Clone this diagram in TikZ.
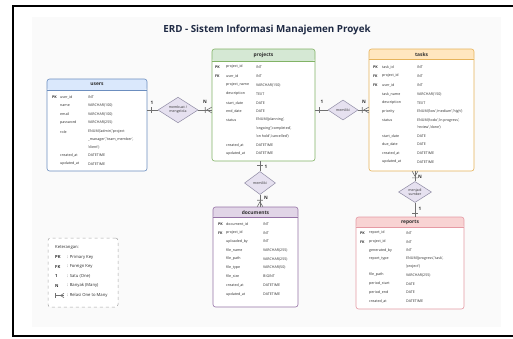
\documentclass[tikz,border=0pt]{standalone}
\usepackage{fontspec}
\setmainfont{Open Sans}
\usetikzlibrary{shapes.geometric}
\definecolor{titlec}{HTML}{1F2A44}
\definecolor{txt}{HTML}{2E2E2E}
\definecolor{usrh}{HTML}{DAE8FC}\definecolor{usrb}{HTML}{6C8EBF}
\definecolor{prjh}{HTML}{D5E8D4}\definecolor{prjb}{HTML}{82B366}
\definecolor{tskh}{HTML}{FFE6BF}\definecolor{tskb}{HTML}{E6B35A}
\definecolor{doch}{HTML}{E1D5E7}\definecolor{docb}{HTML}{9673A6}
\definecolor{reph}{HTML}{F8D3D3}\definecolor{repb}{HTML}{E59AA4}
\definecolor{relf}{HTML}{E6E1F0}\definecolor{relb}{HTML}{8E8AA3}
\definecolor{connc}{HTML}{707070}
\definecolor{panel}{HTML}{FAFAFA}
\newcommand\fld[7]{\node[pkt] at (#1,#4) {#5};\node[fnt] at (#2,#4) {#6};\node[fnt] at (#3,#4) {#7};}
\begin{document}
\begin{tikzpicture}[x=1pt,y=-1pt,
  entity/.style n args={3}{draw=#2, fill=white, rounded corners=2.5pt, line width=0.6pt, inner sep=0pt,
    path picture={\fill[#1] ([yshift=1pt]path picture bounding box.north west) rectangle ([yshift=-#3]path picture bounding box.north east);
      \draw[#2,line width=0.5pt] ([yshift=-#3]path picture bounding box.north west) -- ([yshift=-#3]path picture bounding box.north east);}},
  hdr/.style={font=\fontsize{4.9}{5}\selectfont\bfseries, text=txt, inner sep=0pt},
  pkt/.style={font=\fontsize{3.6}{4}\selectfont\bfseries, text=txt, anchor=west, inner sep=0pt},
  fnt/.style={font=\fontsize{3.6}{4}\selectfont, text=txt, anchor=west, inner sep=0pt},
  rel/.style={diamond, draw=relb, fill=relf, line width=0.5pt, inner sep=0pt, align=center, font=\fontsize{3.5}{4}\selectfont, text=txt},
  conn/.style={draw=connc, line width=0.6pt},
  card/.style={font=\fontsize{4.6}{5}\selectfont\bfseries, text=txt, inner sep=0pt},
  lgt/.style={font=\fontsize{4.2}{5}\selectfont, text=txt, anchor=west, inner sep=0pt},
  lgb/.style={font=\fontsize{4.2}{5}\selectfont\bfseries, text=txt, anchor=west, inner sep=0pt},
  crowfoot/.pic={\draw[conn] (-5,0) -- (0,-2.8) (-5,0) -- (0,2.8) (-6.5,-2.8) -- (-6.5,2.8);},
  onebar/.pic={\draw[conn] (-3.5,-2.8) -- (-3.5,2.8);}
]
\useasboundingbox (0,0) rectangle (513,338);
\fill[white] (0,0) rectangle (513,338);
\fill[panel] (32,17) rectangle (501,327);
\draw[black,line width=1.6pt] (513,5.8) -- (12.8,5.8) -- (12.8,336.2) -- (513,336.2);

\node[font=\fontsize{9.8}{11}\selectfont\bfseries, text=titlec] (title) at (267,30) {ERD - Sistem Informasi Manajemen Proyek};

% entities
\node[entity={usrh}{usrb}{11pt}, minimum width=100pt, minimum height=92pt] (users) at (97,125) {};
\node[entity={prjh}{prjb}{12pt}, minimum width=103pt, minimum height=112pt] (projects) at (263.5,105) {};
\node[entity={tskh}{tskb}{10.5pt}, minimum width=105pt, minimum height=122pt] (tasks) at (421.5,110) {};
\node[entity={doch}{docb}{10.5pt}, minimum width=85pt, minimum height=100pt] (documents) at (255.5,257) {};
\node[entity={reph}{repb}{10.5pt}, minimum width=108pt, minimum height=92pt] (reports) at (410,263) {};

\node[hdr] (usersh) at (97,84.5) {users};
\node[hdr] (projectsh) at (263.5,55) {projects};
\node[hdr] (tasksh) at (421.5,54.5) {tasks};
\node[hdr] (documentsh) at (255.5,212.2) {documents};
\node[hdr] (reportsh) at (410,222.2) {reports};

% users
\fld{52}{60}{88}{97}{PK}{user\_id}{INT}
\fld{52}{60}{88}{105.5}{}{name}{VARCHAR(100)}
\fld{52}{60}{88}{114}{}{email}{VARCHAR(100)}
\fld{52}{60}{88}{122.7}{}{password}{VARCHAR(255)}
\fld{52}{60}{88}{132}{}{role}{ENUM('admin','project}
\fld{52}{60}{88}{139.5}{}{}{\_manager','team\_member',}
\fld{52}{60}{88}{147}{}{}{'client')}
\fld{52}{60}{88}{155.5}{}{created\_at}{DATETIME}
\fld{52}{60}{88}{164}{}{updated\_at}{DATETIME}

% projects
\fld{215}{226}{256}{67}{PK}{project\_id}{INT}
\fld{215}{226}{256}{76}{FK}{user\_id}{INT}
\fld{215}{226}{256}{85}{}{project\_name}{VARCHAR(150)}
\fld{215}{226}{256}{94}{}{description}{TEXT}
\fld{215}{226}{256}{103}{}{start\_date}{DATE}
\fld{215}{226}{256}{111.5}{}{end\_date}{DATE}
\fld{215}{226}{256}{120}{}{status}{ENUM('planning',}
\fld{215}{226}{256}{128.5}{}{}{'ongoing','completed',}
\fld{215}{226}{256}{136.5}{}{}{'on hold','cancelled')}
\fld{215}{226}{256}{145}{}{created\_at}{DATETIME}
\fld{215}{226}{256}{153.5}{}{updated\_at}{DATETIME}

% tasks
\fld{373}{382}{417}{67}{PK}{task\_id}{INT}
\fld{373}{382}{417}{76}{FK}{project\_id}{INT}
\fld{373}{382}{417}{85}{FK}{user\_id}{INT}
\fld{373}{382}{417}{94}{}{task\_name}{VARCHAR(150)}
\fld{373}{382}{417}{103}{}{description}{TEXT}
\fld{373}{382}{417}{111.5}{}{priority}{ENUM('low','medium','high')}
\fld{373}{382}{417}{120.5}{}{status}{ENUM('todo','in progress',}
\fld{373}{382}{417}{127.5}{}{}{'review','done')}
\fld{373}{382}{417}{136}{}{start\_date}{DATE}
\fld{373}{382}{417}{144.5}{}{due\_date}{DATE}
\fld{373}{382}{417}{153}{}{created\_at}{DATETIME}
\fld{373}{382}{417}{162}{}{updated\_at}{DATETIME}

% documents
\fld{218}{226}{263}{224}{PK}{document\_id}{INT}
\fld{218}{226}{263}{233}{FK}{project\_id}{INT}
\fld{218}{226}{263}{241.5}{}{uploaded\_by}{INT}
\fld{218}{226}{263}{250}{}{file\_name}{VARCHAR(255)}
\fld{218}{226}{263}{259}{}{file\_path}{VARCHAR(255)}
\fld{218}{226}{263}{267.5}{}{file\_type}{VARCHAR(50)}
\fld{218}{226}{263}{276.5}{}{file\_size}{BIGINT}
\fld{218}{226}{263}{285.5}{}{created\_at}{DATETIME}
\fld{218}{226}{263}{294.5}{}{updated\_at}{DATETIME}

% reports
\fld{360}{369}{406}{233}{PK}{report\_id}{INT}
\fld{360}{369}{406}{242}{FK}{project\_id}{INT}
\fld{360}{369}{406}{250.5}{}{generated\_by}{INT}
\fld{360}{369}{406}{259}{}{report\_type}{ENUM('progress','task',}
\fld{360}{369}{406}{266.5}{}{}{'project')}
\fld{360}{369}{406}{275}{}{file\_path}{VARCHAR(255)}
\fld{360}{369}{406}{284}{}{period\_start}{DATE}
\fld{360}{369}{406}{292.5}{}{period\_end}{DATE}
\fld{360}{369}{406}{301}{}{created\_at}{DATETIME}

% relations
\node[rel, minimum width=40pt, minimum height=22pt] (rel1) at (178,110) {membuat /\\mengelola};
\node[rel, minimum width=30pt, minimum height=20pt] (rel2) at (343,110) {memiliki};
\node[rel, minimum width=31pt, minimum height=23pt] (rel3) at (260,183) {memiliki};
\node[rel, minimum width=33pt, minimum height=21pt] (rel4) at (415,192) {menjadi\\sumber};

\draw[conn] (users.east |- rel1) -- (rel1.west);
\draw[conn] (rel1.east) -- (projects.west |- rel1);
\draw[conn] (projects.east |- rel2) -- (rel2.west);
\draw[conn] (rel2.east) -- (tasks.west |- rel2);
\draw[conn] (rel3 |- projects.south) -- (rel3.north);
\draw[conn] (rel3.south) -- (rel3 |- documents.north);
\draw[conn] (rel4 |- tasks.south) -- (rel4.north);
\draw[conn] (rel4.south) -- (rel4 |- reports.north);

\pic[rotate=180] at (users.east |- rel1) {onebar};
\pic at (projects.west |- rel1) {crowfoot};
\pic[rotate=180] at (projects.east |- rel2) {onebar};
\pic at (tasks.west |- rel2) {crowfoot};
\pic[rotate=90] at (rel3 |- projects.south) {onebar};
\pic[rotate=-90] at (rel3 |- documents.north) {crowfoot};
\pic[rotate=90] at (rel4 |- tasks.south) {crowfoot};
\pic[rotate=-90] at (rel4 |- reports.north) {onebar};

\node[card] (c1a) at (152,103) {1};
\node[card] (c1b) at (205,101.5) {N};
\node[card] (c2a) at (322,101.5) {1};
\node[card] (c2b) at (364,101.5) {N};
\node[card] (c3a) at (266,167) {1};
\node[card] (c3b) at (266,198) {N};
\node[card] (c4a) at (420,177) {N};
\node[card] (c4b) at (420,209) {1};

% legend
\node[draw=black!35, dashed, rounded corners=2.5pt, fill=white, line width=0.5pt, minimum width=70pt, minimum height=69pt, inner sep=0pt] (legend) at (83,272.5) {};
\node[lgt] (lg0) at (55,247) {Keterangan:};
\node[lgb] (lg1k) at (55,257) {PK};  \node[lgt] (lg1) at (67,257) {: Primary Key};
\node[lgb] (lg2k) at (55,266.5) {FK}; \node[lgt] (lg2) at (67,266.5) {: Foreign Key};
\node[lgb] (lg3k) at (55,276) {1};   \node[lgt] (lg3) at (67,276) {: Satu (One)};
\node[lgb] (lg4k) at (55,285.5) {N}; \node[lgt] (lg4) at (67,285.5) {: Banyak (Many)};
\coordinate (lga) at (55,295.5);
\coordinate (lgb) at (64,295.5);
\draw[conn] (lga) -- (lgb);
\draw[conn] ([yshift=2.2pt]lga) -- ([yshift=-2.2pt]lga);
\draw[conn] ([xshift=-3.5pt]lgb) -- ([yshift=2.2pt]lgb) ([xshift=-3.5pt]lgb) -- ([yshift=-2.2pt]lgb);
\node[lgt] (lg5) at (67,295.5) {: Relasi One to Many};
\end{tikzpicture}
\end{document}
